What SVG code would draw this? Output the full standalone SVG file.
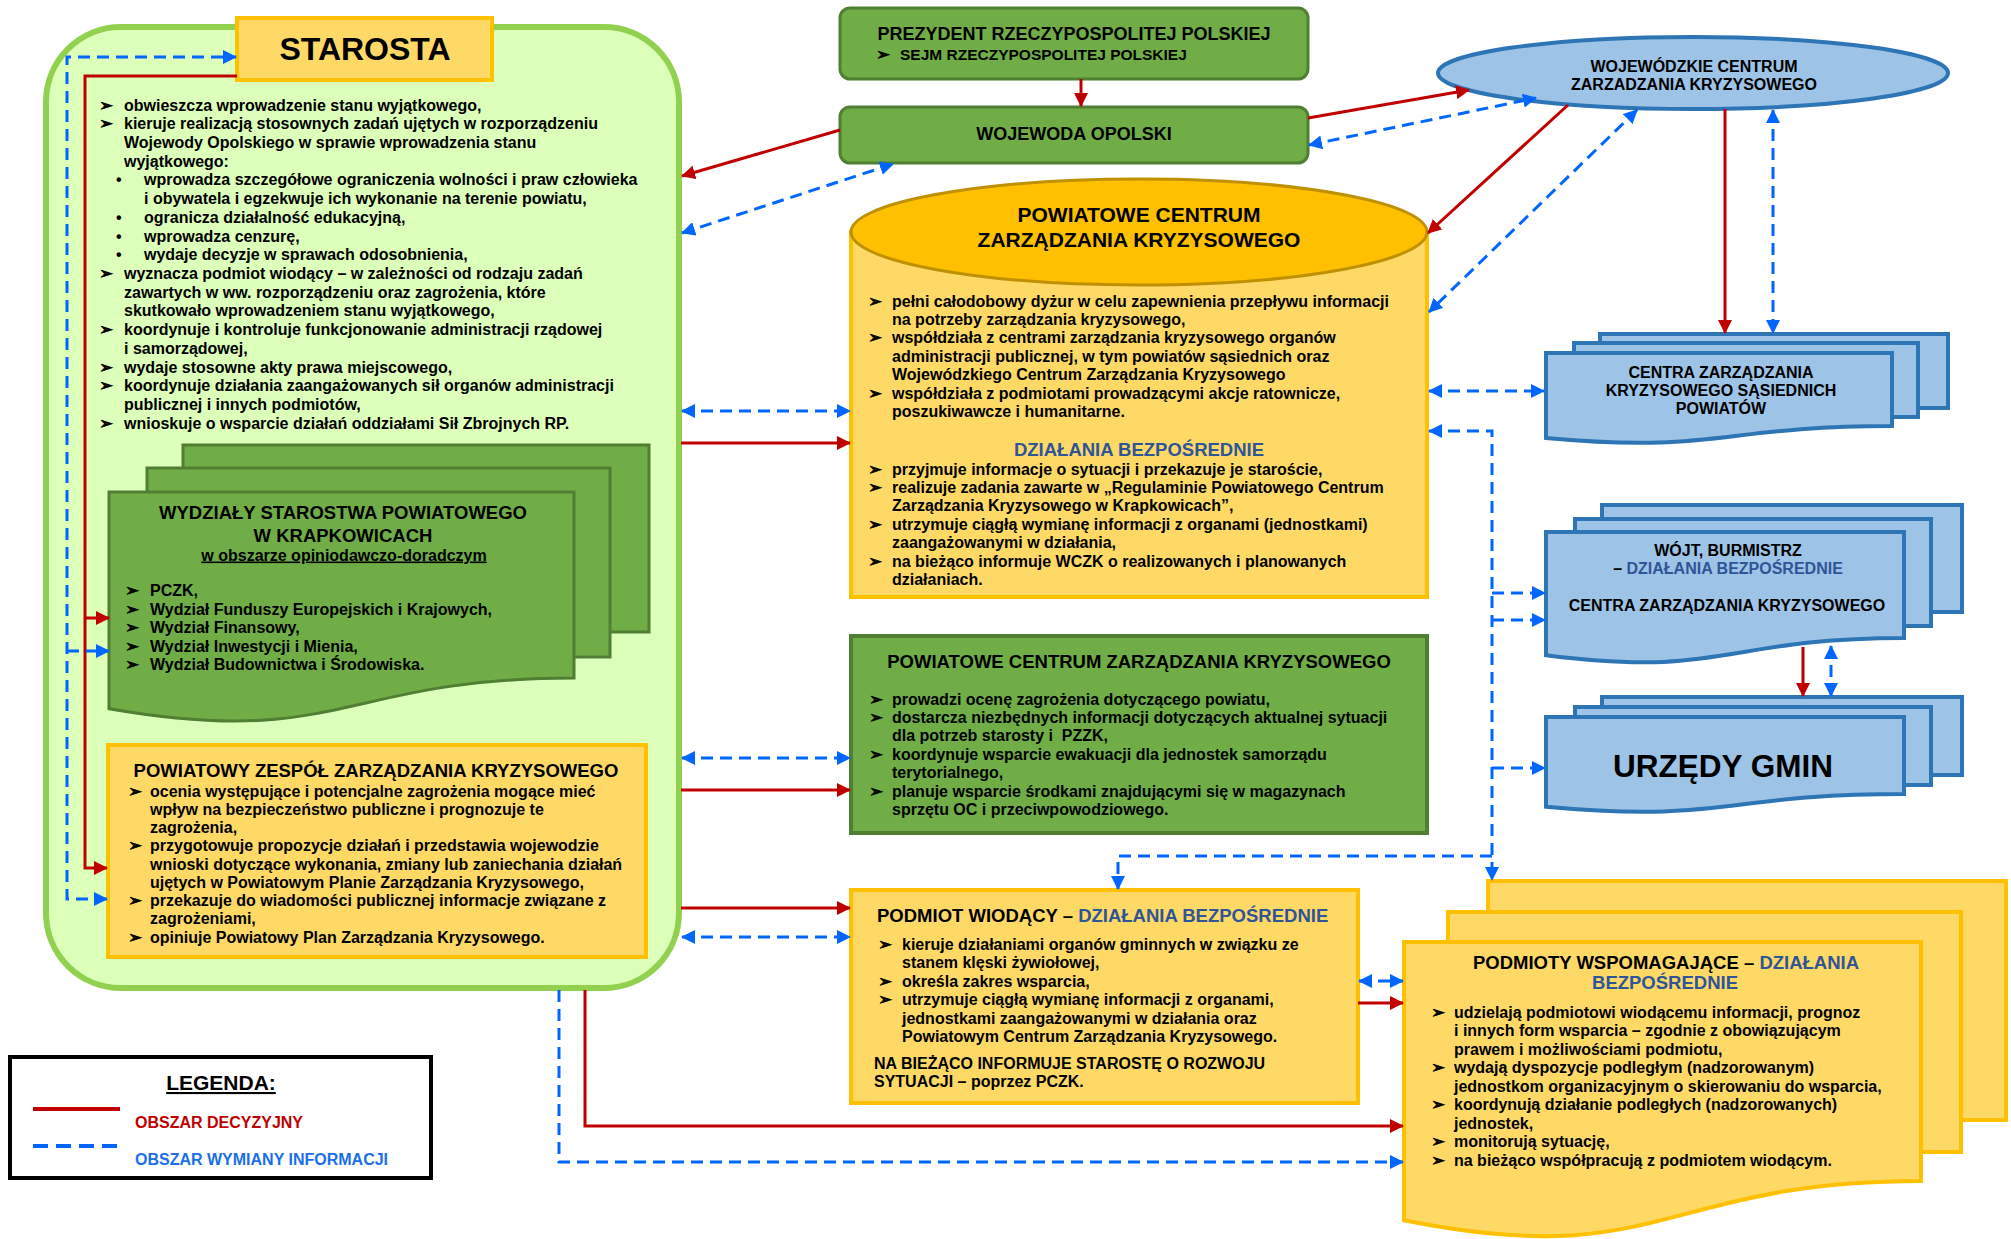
<svg xmlns="http://www.w3.org/2000/svg" width="2011" height="1239" viewBox="0 0 2011 1239">
<style>
text{font-family:"Liberation Sans",Arial,sans-serif;font-weight:bold;fill:#000}
.t{font-size:16px}
.h{font-size:18.5px}
.c{text-anchor:middle}
.a{font-family:"DejaVu Sans",sans-serif;font-size:17px;font-weight:normal;stroke:#000;stroke-width:0.6}
.bl{fill:#2F5597}
.y{fill:#FFD966;stroke:#FFC000;stroke-width:4}
.g{fill:#70AD47;stroke:#507E32;stroke-width:3}
.b{fill:#9DC3E6;stroke:#2E75B6;stroke-width:4}
.r{fill:none;stroke:#C00000;stroke-width:3}
.d{fill:none;stroke:#0066FF;stroke-width:3;stroke-dasharray:12 7}
</style>
<defs>
<marker id="mr" viewBox="0 0 14 14" refX="13" refY="7" markerWidth="14" markerHeight="14" markerUnits="userSpaceOnUse" orient="auto-start-reverse"><path d="M0,0 L14,7 L0,14 z" fill="#C00000"/></marker>
<marker id="mb" viewBox="0 0 14 14" refX="13" refY="7" markerWidth="14" markerHeight="14" markerUnits="userSpaceOnUse" orient="auto-start-reverse"><path d="M0,0 L14,7 L0,14 z" fill="#0066FF"/></marker>
</defs>
<rect width="2011" height="1239" fill="#fff"/>

<g id="starosta">
<rect x="46" y="27" width="633" height="961" rx="75" fill="#DCFFBA" stroke="#92D050" stroke-width="6"/>
<rect x="237" y="18" width="255" height="62" fill="#FFD966" stroke="#FFC000" stroke-width="4"/>
<text x="365" y="60" class="c" font-size="32">STAROSTA</text>
<text class="a" x="99" y="110.5">➢</text><text class="t" x="124" y="110.5">obwieszcza wprowadzenie stanu wyjątkowego,</text>
<text class="a" x="99" y="129.2">➢</text><text class="t" x="124" y="129.2">kieruje realizacją stosownych zadań ujętych w rozporządzeniu</text>
<text class="t" x="124" y="147.9">Wojewody Opolskiego w sprawie wprowadzenia stanu</text>
<text class="t" x="124" y="166.7">wyjątkowego:</text>
<text class="t" x="116" y="185.4">•</text><text class="t" x="144" y="185.4">wprowadza szczegółowe ograniczenia wolności i praw człowieka</text>
<text class="t" x="144" y="204.1">i obywatela i egzekwuje ich wykonanie na terenie powiatu,</text>
<text class="t" x="116" y="222.8">•</text><text class="t" x="144" y="222.8">ogranicza działalność edukacyjną,</text>
<text class="t" x="116" y="241.5">•</text><text class="t" x="144" y="241.5">wprowadza cenzurę,</text>
<text class="t" x="116" y="260.3">•</text><text class="t" x="144" y="260.3">wydaje decyzje w sprawach odosobnienia,</text>
<text class="a" x="99" y="279">➢</text><text class="t" x="124" y="279">wyznacza podmiot wiodący – w zależności od rodzaju zadań</text>
<text class="t" x="124" y="297.7">zawartych w ww. rozporządzeniu oraz zagrożenia, które</text>
<text class="t" x="124" y="316.4">skutkowało wprowadzeniem stanu wyjątkowego,</text>
<text class="a" x="99" y="335.1">➢</text><text class="t" x="124" y="335.1">koordynuje i kontroluje funkcjonowanie administracji rządowej</text>
<text class="t" x="124" y="353.9">i samorządowej,</text>
<text class="a" x="99" y="372.6">➢</text><text class="t" x="124" y="372.6">wydaje stosowne akty prawa miejscowego,</text>
<text class="a" x="99" y="391.3">➢</text><text class="t" x="124" y="391.3">koordynuje działania zaangażowanych sił organów administracji</text>
<text class="t" x="124" y="410">publicznej i innych podmiotów,</text>
<text class="a" x="99" y="428.7">➢</text><text class="t" x="124" y="428.7">wnioskuje o wsparcie działań oddziałami Sił Zbrojnych RP.</text>
</g>

<g id="wydzialy">
<rect class="g" x="183" y="445" width="466" height="187"/>
<rect class="g" x="147" y="468" width="463" height="189"/>
<path class="g" d="M109,492 H574 V678.1 C341.5,678.1 341.5,748.9 109,708.7 Z"/>
<text class="h c" x="343" y="518.5">WYDZIAŁY STAROSTWA POWIATOWEGO</text>
<text class="h c" x="343" y="541.5">W KRAPKOWICACH</text>
<text class="t c" x="344" y="560.5" text-decoration="underline">w obszarze opiniodawczo-doradczym</text>
<text class="a" x="125" y="596">➢</text><text class="t" x="150" y="596">PCZK,</text>
<text class="a" x="125" y="614.5">➢</text><text class="t" x="150" y="614.5">Wydział Funduszy Europejskich i Krajowych,</text>
<text class="a" x="125" y="633">➢</text><text class="t" x="150" y="633">Wydział Finansowy,</text>
<text class="a" x="125" y="651.5">➢</text><text class="t" x="150" y="651.5">Wydział Inwestycji i Mienia,</text>
<text class="a" x="125" y="670">➢</text><text class="t" x="150" y="670">Wydział Budownictwa i Środowiska.</text>
</g>

<g id="pzzk">
<rect class="y" x="108" y="745" width="538" height="212"/>
<text class="h c" x="376" y="776.5">POWIATOWY ZESPÓŁ ZARZĄDZANIA KRYZYSOWEGO</text>
<text class="a" x="128" y="796.5">➢</text><text class="t" x="150" y="796.5">ocenia występujące i potencjalne zagrożenia mogące mieć</text>
<text class="t" x="150" y="814.8">wpływ na bezpieczeństwo publiczne i prognozuje te</text>
<text class="t" x="150" y="833">zagrożenia,</text>
<text class="a" x="128" y="851.3">➢</text><text class="t" x="150" y="851.3">przygotowuje propozycje działań i przedstawia wojewodzie</text>
<text class="t" x="150" y="869.5">wnioski dotyczące wykonania, zmiany lub zaniechania działań</text>
<text class="t" x="150" y="887.8">ujętych w Powiatowym Planie Zarządzania Kryzysowego,</text>
<text class="a" x="128" y="906">➢</text><text class="t" x="150" y="906">przekazuje do wiadomości publicznej informacje związane z</text>
<text class="t" x="150" y="924.3">zagrożeniami,</text>
<text class="a" x="128" y="942.5">➢</text><text class="t" x="150" y="942.5">opiniuje Powiatowy Plan Zarządzania Kryzysowego.</text>
</g>

<g id="prezydent">
<rect class="g" x="840" y="8" width="468" height="71" rx="10"/>
<text class="c" x="1074" y="40" font-size="18">PREZYDENT RZECZYPOSPOLITEJ POLSKIEJ</text>
<text class="a" x="876" y="59.5">➢</text><text x="900" y="59.5" font-size="15.5">SEJM RZECZYPOSPOLITEJ POLSKIEJ</text>
</g>

<g id="wojewoda">
<rect class="g" x="840" y="107" width="468" height="56" rx="10"/>
<text class="c" x="1074" y="140" font-size="18">WOJEWODA OPOLSKI</text>
</g>

<g id="pczk">
<rect x="851" y="232" width="576" height="365" fill="#FFD966" stroke="#FFC000" stroke-width="4"/>
<ellipse cx="1139" cy="232" rx="288" ry="53" fill="#FFC000" stroke="#BF9000" stroke-width="3"/>
<text class="c" x="1139" y="222" font-size="21">POWIATOWE CENTRUM</text>
<text class="c" x="1139" y="247" font-size="21">ZARZĄDZANIA KRYZYSOWEGO</text>
<text class="a" x="868" y="306.5">➢</text><text class="t" x="892" y="306.5">pełni całodobowy dyżur w celu zapewnienia przepływu informacji</text>
<text class="t" x="892" y="324.9">na potrzeby zarządzania kryzysowego,</text>
<text class="a" x="868" y="343.3">➢</text><text class="t" x="892" y="343.3">współdziała z centrami zarządzania kryzysowego organów</text>
<text class="t" x="892" y="361.7">administracji publicznej, w tym powiatów sąsiednich oraz</text>
<text class="t" x="892" y="380.1">Wojewódzkiego Centrum Zarządzania Kryzysowego</text>
<text class="a" x="868" y="398.5">➢</text><text class="t" x="892" y="398.5">współdziała z podmiotami prowadzącymi akcje ratownicze,</text>
<text class="t" x="892" y="416.9">poszukiwawcze i humanitarne.</text>
<text class="h c bl" x="1139" y="456">DZIAŁANIA BEZPOŚREDNIE</text>
<text class="a" x="868" y="474.5">➢</text><text class="t" x="892" y="474.5">przyjmuje informacje o sytuacji i przekazuje je staroście,</text>
<text class="a" x="868" y="492.9">➢</text><text class="t" x="892" y="492.9">realizuje zadania zawarte w „Regulaminie Powiatowego Centrum</text>
<text class="t" x="892" y="511.3">Zarządzania Kryzysowego w Krapkowicach”,</text>
<text class="a" x="868" y="529.7">➢</text><text class="t" x="892" y="529.7">utrzymuje ciągłą wymianę informacji z organami (jednostkami)</text>
<text class="t" x="892" y="548.1">zaangażowanymi w działania,</text>
<text class="a" x="868" y="566.5">➢</text><text class="t" x="892" y="566.5">na bieżąco informuje WCZK o realizowanych i planowanych</text>
<text class="t" x="892" y="584.9">działaniach.</text>
</g>

<g id="pczk-green">
<rect x="851" y="636" width="576" height="197" fill="#70AD47" stroke="#507E32" stroke-width="4"/>
<text class="h c" x="1139" y="668">POWIATOWE CENTRUM ZARZĄDZANIA KRYZYSOWEGO</text>
<text class="a" x="869" y="704.5">➢</text><text class="t" x="892" y="704.5">prowadzi ocenę zagrożenia dotyczącego powiatu,</text>
<text class="a" x="869" y="722.9">➢</text><text class="t" x="892" y="722.9">dostarcza niezbędnych informacji dotyczących aktualnej sytuacji</text>
<text class="t" x="892" y="741.3" xml:space="preserve">dla potrzeb starosty i  PZZK,</text>
<text class="a" x="869" y="759.7">➢</text><text class="t" x="892" y="759.7">koordynuje wsparcie ewakuacji dla jednostek samorządu</text>
<text class="t" x="892" y="778.1">terytorialnego,</text>
<text class="a" x="869" y="796.5">➢</text><text class="t" x="892" y="796.5">planuje wsparcie środkami znajdującymi się w magazynach</text>
<text class="t" x="892" y="814.9">sprzętu OC i przeciwpowodziowego.</text>
</g>

<g id="wczk">
<ellipse cx="1693" cy="73" rx="255" ry="36" fill="#9DC3E6" stroke="#2E75B6" stroke-width="4"/>
<text class="t c" x="1694" y="71.5">WOJEWÓDZKIE CENTRUM</text>
<text class="t c" x="1694" y="89.5">ZARZADZANIA KRYZYSOWEGO</text>
</g>

<g id="centra-sasiednie">
<rect class="b" x="1600" y="334" width="348" height="74"/>
<rect class="b" x="1574" y="343" width="344" height="74"/>
<path class="b" d="M1546,353 H1892 V426 C1719,426 1719,453.8 1546,438 Z"/>
<text class="t c" x="1721" y="377.5">CENTRA ZARZĄDZANIA</text>
<text class="t c" x="1721" y="395.5">KRYZYSOWEGO SĄSIEDNICH</text>
<text class="t c" x="1721" y="413.5">POWIATÓW</text>
</g>

<g id="wojt">
<rect class="b" x="1602" y="505" width="360" height="107"/>
<rect class="b" x="1575" y="519" width="356" height="107"/>
<path class="b" d="M1546,532 H1904 V637.9 C1725,637.9 1725,678.2 1546,655.3 Z"/>
<text class="t c" x="1728" y="556">WÓJT, BURMISTRZ</text>
<text class="t c" x="1728" y="574">– <tspan class="bl">DZIAŁANIA BEZPOŚREDNIE</tspan></text>
<text class="t c" x="1727" y="611">CENTRA ZARZĄDZANIA KRYZYSOWEGO</text>
</g>

<g id="urzedy-gmin">
<rect class="b" x="1602" y="697" width="360" height="78"/>
<rect class="b" x="1575" y="707" width="356" height="78"/>
<path class="b" d="M1546,717 H1904 V794 C1725,794 1725,823.3 1546,806.7 Z"/>
<text class="c" x="1723" y="777" font-size="31.5">URZĘDY GMIN</text>
</g>

<g id="podmiot-wiodacy">
<rect class="y" x="851" y="890" width="507" height="213"/>
<text class="h" x="877" y="921.5">PODMIOT WIODĄCY – <tspan class="bl">DZIAŁANIA BEZPOŚREDNIE</tspan></text>
<text class="a" x="878" y="949.5">➢</text><text class="t" x="902" y="949.5">kieruje działaniami organów gminnych w związku ze</text>
<text class="t" x="902" y="967.8">stanem klęski żywiołowej,</text>
<text class="a" x="878" y="986.5">➢</text><text class="t" x="902" y="986.5">określa zakres wsparcia,</text>
<text class="a" x="878" y="1005">➢</text><text class="t" x="902" y="1005">utrzymuje ciągłą wymianę informacji z organami,</text>
<text class="t" x="902" y="1023.5">jednostkami zaangażowanymi w działania oraz</text>
<text class="t" x="902" y="1042">Powiatowym Centrum Zarządzania Kryzysowego.</text>
<text class="t" x="874" y="1068.5">NA BIEŻĄCO INFORMUJE STAROSTĘ O ROZWOJU</text>
<text class="t" x="874" y="1087">SYTUACJI – poprzez PCZK.</text>
</g>

<g id="podmioty-wspomagajace">
<rect class="y" x="1488" y="881" width="518" height="239"/>
<rect class="y" x="1448" y="912" width="513" height="240"/>
<path class="y" d="M1404,942 H1921 V1181 C1662.5,1181 1662.5,1272 1404,1220.3 Z"/>
<text class="h c" x="1666" y="968.5">PODMIOTY WSPOMAGAJĄCE – <tspan class="bl">DZIAŁANIA</tspan></text>
<text class="h c bl" x="1665" y="988.5">BEZPOŚREDNIE</text>
<text class="a" x="1431" y="1017.5">➢</text><text class="t" x="1454" y="1017.5">udzielają podmiotowi wiodącemu informacji, prognoz</text>
<text class="t" x="1454" y="1036">i innych form wsparcia – zgodnie z obowiązującym</text>
<text class="t" x="1454" y="1054.5">prawem i możliwościami podmiotu,</text>
<text class="a" x="1431" y="1073">➢</text><text class="t" x="1454" y="1073">wydają dyspozycje podległym (nadzorowanym)</text>
<text class="t" x="1454" y="1091.5">jednostkom organizacyjnym o skierowaniu do wsparcia,</text>
<text class="a" x="1431" y="1110">➢</text><text class="t" x="1454" y="1110">koordynują działanie podległych (nadzorowanych)</text>
<text class="t" x="1454" y="1128.5">jednostek,</text>
<text class="a" x="1431" y="1147">➢</text><text class="t" x="1454" y="1147">monitorują sytuację,</text>
<text class="a" x="1431" y="1165.5">➢</text><text class="t" x="1454" y="1165.5">na bieżąco współpracują z podmiotem wiodącym.</text>
</g>

<g id="connectors">
<line class="r" x1="1081" y1="79" x2="1081" y2="106" marker-end="url(#mr)"/>
<line class="r" x1="840" y1="130" x2="682" y2="176" marker-end="url(#mr)"/>
<line class="r" x1="1308" y1="118" x2="1469" y2="90" marker-end="url(#mr)"/>
<line class="r" x1="1568" y1="105" x2="1428" y2="233" marker-end="url(#mr)"/>
<line class="r" x1="1725" y1="109" x2="1725" y2="333" marker-end="url(#mr)"/>
<line class="r" x1="681" y1="443" x2="850" y2="443" marker-end="url(#mr)"/>
<line class="r" x1="681" y1="790" x2="850" y2="790" marker-end="url(#mr)"/>
<line class="r" x1="681" y1="908" x2="850" y2="908" marker-end="url(#mr)"/>
<polyline class="r" points="585,990 585,1126 1403,1126" marker-end="url(#mr)"/>
<line class="r" x1="1358" y1="1003" x2="1403" y2="1003" marker-end="url(#mr)"/>
<polyline class="r" points="237,76 85,76 85,868 107,868" marker-end="url(#mr)"/>
<line class="r" x1="85" y1="618" x2="109" y2="618" marker-end="url(#mr)"/>
<line class="r" x1="1803" y1="647" x2="1803" y2="696" marker-end="url(#mr)"/>

<line class="d" x1="682" y1="233" x2="893" y2="164" marker-start="url(#mb)" marker-end="url(#mb)"/>
<line class="d" x1="1309" y1="145" x2="1536" y2="98" marker-start="url(#mb)" marker-end="url(#mb)"/>
<line class="d" x1="1637" y1="110" x2="1429" y2="312" marker-start="url(#mb)" marker-end="url(#mb)"/>
<line class="d" x1="1773" y1="110" x2="1773" y2="333" marker-start="url(#mb)" marker-end="url(#mb)"/>
<line class="d" x1="1429" y1="391" x2="1544" y2="391" marker-start="url(#mb)" marker-end="url(#mb)"/>
<line class="d" x1="682" y1="411" x2="850" y2="411" marker-start="url(#mb)" marker-end="url(#mb)"/>
<line class="d" x1="682" y1="758" x2="850" y2="758" marker-start="url(#mb)" marker-end="url(#mb)"/>
<line class="d" x1="682" y1="937" x2="850" y2="937" marker-start="url(#mb)" marker-end="url(#mb)"/>
<polyline class="d" points="559,990 559,1162 1403,1162" marker-end="url(#mb)"/>
<line class="d" x1="1359" y1="981" x2="1403" y2="981" marker-start="url(#mb)" marker-end="url(#mb)"/>
<polyline class="d" points="107,899 67,899 67,57 236,57" marker-start="url(#mb)" marker-end="url(#mb)"/>
<line class="d" x1="67" y1="651" x2="109" y2="651" marker-end="url(#mb)"/>
<polyline class="d" points="1429,431 1492,431 1492,880" marker-start="url(#mb)" marker-end="url(#mb)"/>
<line class="d" x1="1492" y1="593" x2="1545" y2="593" marker-end="url(#mb)"/>
<line class="d" x1="1492" y1="620" x2="1545" y2="620" marker-end="url(#mb)"/>
<line class="d" x1="1492" y1="768" x2="1545" y2="768" marker-end="url(#mb)"/>
<polyline class="d" points="1492,856 1118,856 1118,889" marker-end="url(#mb)"/>
<line class="d" x1="1831" y1="646" x2="1831" y2="696" marker-start="url(#mb)" marker-end="url(#mb)"/>
</g>

<g id="legenda">
<rect x="10" y="1057" width="421" height="121" fill="#fff" stroke="#000" stroke-width="4"/>
<text class="c" x="221" y="1090" font-size="21" text-decoration="underline">LEGENDA:</text>
<line x1="33" y1="1109" x2="120" y2="1109" stroke="#C00000" stroke-width="4"/>
<text class="t" x="135" y="1127.5" style="fill:#C00000">OBSZAR DECYZYJNY</text>
<line x1="33" y1="1146" x2="118" y2="1146" stroke="#0066FF" stroke-width="4" stroke-dasharray="15 8"/>
<text class="t" x="135" y="1164.5" style="fill:#1A6FE8">OBSZAR WYMIANY INFORMACJI</text>
</g>
</svg>
